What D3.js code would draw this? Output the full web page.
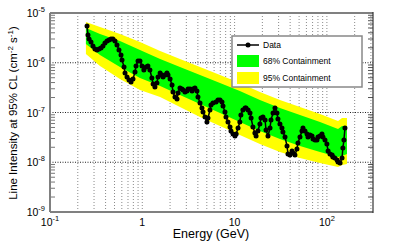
<!DOCTYPE html>
<html><head><meta charset="utf-8">
<script src="https://cdn.jsdelivr.net/npm/d3@7"></script>
<style>
body{margin:0;background:#fff}
svg{display:block}
text{font-family:"Liberation Sans",Arial,Helvetica,sans-serif;fill:#000}
</style>
</head><body>
<svg id="c" width="415" height="242"></svg>
<script>
// ---- data (GeV, cm^-2 s^-1) ----
const energy=[0.252,0.258,0.265,0.278,0.292,0.307,0.323,0.340,0.357,0.375,0.394,0.415,0.436,0.458,0.481,0.506,0.532,0.559,0.588,0.603,0.634,0.650,0.683,0.718,0.755,0.793,0.834,0.855,0.899,0.944,0.993,1.04,
1.10,1.15,1.21,1.27,1.31,1.37,1.44,1.48,1.56,1.63,1.68,1.76,1.85,1.90,2.00,2.10,2.15,2.26,2.38,2.44,2.56,2.69,2.76,2.90,3.05,3.13,3.29,3.46,3.54,3.72,3.91,4.01,4.22,4.43,4.55,4.78,5.02,5.15,5.41,5.55,5.83,6.29,6.61,6.95,7.30,7.49,7.87,8.07,8.48,8.92,9.14,9.61,10.1,10.4,10.9,11.4,11.7,12.3,13.0,13.3,14.0,14.7,15.1,15.8,16.6,17.1,17.9,18.8,19.3,20.3,21.4,21.9,23.0,24.2,24.8,26.1,27.4,28.8,29.5,31.0,32.6,33.4,35.2,37.0,37.9,39.8,41.9,42.9,45.1,47.4,48.6,51.1,53.7,55.1,57.9,60.9,62.4,65.6,69.0,70.7,74.3,78.1,80.1,84.2,88.5,90.7,95.4,100,103,108,114,116,122,129,132,139,146,149,153,157];
const intensity=[5.48e-6,3.61e-6,3.00e-6,2.61e-6,2.17e-6,1.89e-6,1.80e-6,1.89e-6,1.98e-6,2.17e-6,2.49e-6,2.74e-6,2.87e-6,3.00e-6,3.00e-6,2.74e-6,2.27e-6,1.80e-6,1.43e-6,1.14e-6,8.21e-7,6.22e-7,5.17e-7,4.50e-7,4.10e-7,4.71e-7,6.52e-7,8.61e-7,1.08e-6,1.08e-6,8.61e-7,7.15e-7,
8.21e-7,8.61e-7,7.15e-7,4.94e-7,3.74e-7,3.26e-7,3.92e-7,5.17e-7,6.22e-7,5.67e-7,
5.17e-7,5.67e-7,6.22e-7,5.67e-7,4.71e-7,3.57e-7,2.58e-7,2.05e-7,1.87e-7,2.47e-7,
3.11e-7,2.97e-7,2.83e-7,2.58e-7,2.70e-7,2.97e-7,2.97e-7,2.70e-7,2.97e-7,3.11e-7,
2.70e-7,2.05e-7,1.55e-7,1.23e-7,1.02e-7,8.12e-8,6.44e-8,7.75e-8,1.12e-7,1.42e-7,
1.55e-7,1.63e-7,1.78e-7,1.78e-7,1.63e-7,1.35e-7,1.02e-7,8.12e-8,6.44e-8,5.11e-8,
4.25e-8,3.70e-8,3.37e-8,3.70e-8,4.88e-8,6.44e-8,8.91e-8,1.12e-7,1.23e-7,1.23e-7,
1.12e-7,9.77e-8,7.75e-8,5.11e-8,3.87e-8,3.37e-8,4.25e-8,5.87e-8,7.75e-8,8.12e-8,
7.06e-8,4.45e-8,3.37e-8,4.88e-8,7.06e-8,9.77e-8,1.23e-7,9.77e-8,7.40e-8,5.87e-8,
4.88e-8,4.05e-8,3.22e-8,2.12e-8,1.46e-8,1.40e-8,1.68e-8,1.53e-8,1.40e-8,1.85e-8,
2.44e-8,3.22e-8,4.25e-8,4.88e-8,4.25e-8,3.70e-8,3.22e-8,3.53e-8,3.37e-8,2.93e-8,
2.80e-8,2.80e-8,3.22e-8,3.37e-8,3.70e-8,3.22e-8,2.80e-8,2.33e-8,1.68e-8,1.46e-8,
1.40e-8,1.27e-8,1.22e-8,1.11e-8,1.01e-8,9.66e-9,1.22e-8,1.93e-8,2.80e-8,4.88e-8];

const bandEnergy=[0.245,0.348,0.573,0.944,1.56,2.56,4.22,6.95,11.4,18.8,31.0,51.1,84.2,132,146,165];
const upper95=[6.59e-6,5.23e-6,3.78e-6,2.61e-6,1.72e-6,1.19e-6,8.21e-7,5.67e-7,3.92e-7,2.58e-7,1.78e-7,1.29e-7,9.33e-8,6.75e-8,7.75e-8,7.75e-8];
const upper68=[4.99e-6,3.78e-6,2.74e-6,1.80e-6,1.19e-6,8.21e-7,5.67e-7,3.92e-7,2.70e-7,1.78e-7,1.23e-7,8.91e-8,6.44e-8,4.66e-8,5.35e-8,5.35e-8];
const lower68=[2.38e-6,1.43e-6,8.21e-7,4.94e-7,3.41e-7,2.25e-7,1.48e-7,9.77e-8,6.44e-8,4.25e-8,2.93e-8,2.12e-8,1.61e-8,1.27e-8,1.34e-8,1.46e-8];
const lower95=[1.50e-6,8.61e-7,4.71e-7,2.83e-7,2.05e-7,1.29e-7,8.12e-8,5.35e-8,3.53e-8,2.33e-8,1.61e-8,1.22e-8,9.66e-9,8.03e-9,8.81e-9,9.22e-9];

const xTicks=[0.1,1,10,100];
const xTickLabels=[["10","-1"],["1",""],["10",""],["10","2"]];
const yTicks=[1e-9,1e-8,1e-7,1e-6,1e-5];
const yTickLabels=[["10","-9"],["10","-8"],["10","-7"],["10","-6"],["10","-5"]];
const legendLabels=["Data","68% Containment","95% Containment"];
const colors={g68:"#00ff00",y95:"#ffff00"};

// ---- scales ----
const L=50,R=373,T=13,B=212;
const x=d3.scaleLog().domain([0.1,316]).range([L,R]);
const y=d3.scaleLog().domain([1e-9,1e-5]).range([B,T]);
const svg=d3.select("#c");

svg.append("defs").append("clipPath").attr("id","clip")
  .append("rect").attr("x",L).attr("y",T).attr("width",R-L).attr("height",B-T);

// ---- grid ----
const minorX=[];
for(let d=-1;d<=2;d++)for(let k=1;k<=9;k++){const v=k*Math.pow(10,d);if(v>0.1&&v<316)minorX.push(v);}
svg.append("g").selectAll("line").data(minorX).join("line")
  .attr("x1",d=>x(d)).attr("x2",d=>x(d)).attr("y1",T).attr("y2",B)
  .attr("stroke","#8a8a8a").attr("stroke-width",1).attr("stroke-dasharray","1,2");
svg.append("g").selectAll("line").data(yTicks.slice(1,-1)).join("line")
  .attr("x1",L).attr("x2",R).attr("y1",d=>y(d)).attr("y2",d=>y(d))
  .attr("stroke","#222").attr("stroke-width",1).attr("stroke-dasharray","1,1.5");

// ---- bands ----
const bands=bandEnergy.map((e,i)=>({e,u95:upper95[i],u68:upper68[i],l68:lower68[i],l95:lower95[i]}));
const pg=svg.append("g").attr("clip-path","url(#clip)");
pg.append("path").datum(bands)
  .attr("d",d3.area().x(d=>x(d.e)).y0(d=>y(d.l95)).y1(d=>y(d.u95)))
  .attr("fill",colors.y95);
pg.append("path").datum(bands)
  .attr("d",d3.area().x(d=>x(d.e)).y0(d=>y(d.l68)).y1(d=>y(d.u68)))
  .attr("fill",colors.g68);

// ---- data ----
const pts=energy.map((e,i)=>({e,v:intensity[i]}));
pg.append("path").datum(pts)
  .attr("d",d3.line().x(d=>x(d.e)).y(d=>y(d.v)))
  .attr("fill","none").attr("stroke","#000").attr("stroke-width",1.5);
pg.append("g").selectAll("circle").data(pts).join("circle")
  .attr("cx",d=>x(d.e)).attr("cy",d=>y(d.v)).attr("r",2.5).attr("fill","#000");

// ---- y minor ticks ----
const minorY=[];
for(let d=-9;d<=-6;d++)for(let k=2;k<=9;k++)minorY.push(k*Math.pow(10,d));
svg.append("g").selectAll("line").data(minorY).join("line")
  .attr("x1",L).attr("x2",L+5).attr("y1",d=>y(d)).attr("y2",d=>y(d))
  .attr("stroke","#777").attr("stroke-width",1);
svg.append("g").selectAll("line").data(minorY).join("line")
  .attr("x1",R-5).attr("x2",R).attr("y1",d=>y(d)).attr("y2",d=>y(d))
  .attr("stroke","#555").attr("stroke-width",1);

// ---- frame ----
svg.append("line").attr("x1",L).attr("x2",R).attr("y1",T).attr("y2",T).attr("stroke","#808080").attr("stroke-width",2);
svg.append("line").attr("x1",L).attr("x2",R).attr("y1",B).attr("y2",B).attr("stroke","#808080").attr("stroke-width",2);
svg.append("line").attr("x1",L).attr("x2",L).attr("y1",T).attr("y2",B).attr("stroke","#808080").attr("stroke-width",2);
svg.append("line").attr("x1",R).attr("x2",R).attr("y1",T-1).attr("y2",B+1).attr("stroke","#333").attr("stroke-width",1.2);

// ---- tick labels ----
const yl=svg.append("g").selectAll("text").data(yTicks).join("text")
  .attr("x",45).attr("y",d=>y(d)+4).attr("text-anchor","end").attr("font-size",10.5);
yl.append("tspan").text((d,i)=>yTickLabels[i][0]);
yl.append("tspan").attr("dy",-5).attr("font-size",7.5).text((d,i)=>yTickLabels[i][1]);

const xl=svg.append("g").selectAll("text").data(xTicks).join("text")
  .attr("x",d=>x(d)).attr("y",226).attr("text-anchor","middle").attr("font-size",10.5);
xl.append("tspan").text((d,i)=>xTickLabels[i][0]);
xl.append("tspan").attr("dy",-5).attr("font-size",7.5).text((d,i)=>xTickLabels[i][1]);

// ---- axis titles ----
svg.append("text").attr("x",211).attr("y",238).attr("text-anchor","middle").attr("font-size",12.5).text("Energy (GeV)");
const yt=svg.append("text").attr("transform","translate(17,113) rotate(-90)").attr("text-anchor","middle").attr("font-size",11.5);
yt.append("tspan").text("Line Intensity at 95% CL (cm");
yt.append("tspan").attr("dy",-4).attr("font-size",8).text("-2");
yt.append("tspan").attr("dy",4).text(" s");
yt.append("tspan").attr("dy",-4).attr("font-size",8).text("-1");
yt.append("tspan").attr("dy",4).text(")");

// ---- legend ----
const lg=svg.append("g");
lg.append("rect").attr("x",232).attr("y",36).attr("width",130).attr("height",51)
  .attr("fill","#fff").attr("stroke","#888").attr("stroke-width",1.5);
const rowY=[45,61,78];
lg.append("line").attr("x1",237).attr("x2",259).attr("y1",rowY[0]).attr("y2",rowY[0]).attr("stroke","#000").attr("stroke-width",1.5);
lg.append("circle").attr("cx",248).attr("cy",rowY[0]).attr("r",2.5).attr("fill","#000");
lg.append("rect").attr("x",237).attr("y",rowY[1]-6).attr("width",22).attr("height",12).attr("fill",colors.g68);
lg.append("rect").attr("x",237).attr("y",rowY[2]-6).attr("width",22).attr("height",12).attr("fill",colors.y95);
lg.selectAll("text.l").data(legendLabels).join("text").attr("class","l")
  .attr("x",263).attr("y",(d,i)=>rowY[i]+3).attr("font-size",8.5).text(d=>d);
</script>
</body></html>
